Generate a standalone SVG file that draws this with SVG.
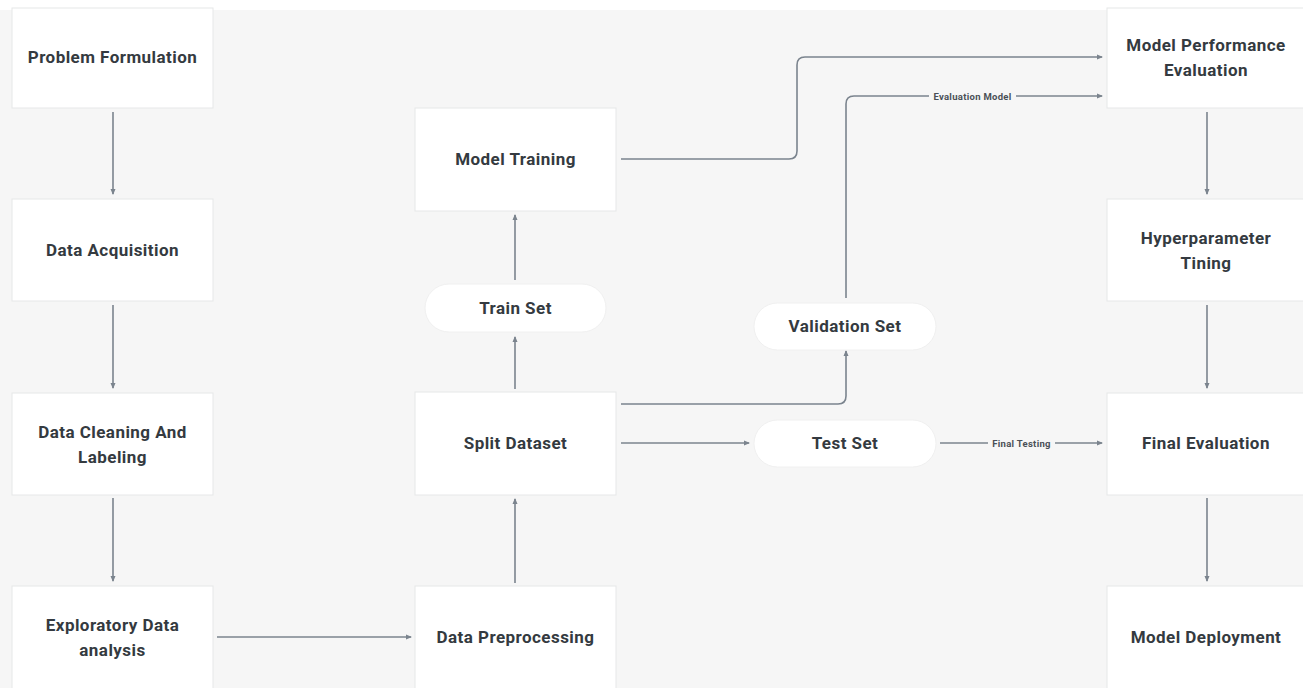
<svg xmlns="http://www.w3.org/2000/svg" width="1303" height="688" viewBox="0 0 1303 688">
<defs>
<style>
.box{fill:#ffffff;stroke:#e6e7e8;stroke-width:1}
.pill{fill:#ffffff;stroke:#f0f0f0;stroke-width:1}
.t{font-family:"Roboto","Liberation Sans",sans-serif;font-weight:bold;font-size:17px;letter-spacing:0.45px;fill:#343a40;text-anchor:middle}
.lbl{font-family:"Roboto","Liberation Sans",sans-serif;font-weight:bold;font-size:9.5px;letter-spacing:0.3px;fill:#4a5057;text-anchor:middle}
.c{fill:none;stroke:#7b848e;stroke-width:1.6;marker-end:url(#ah)}
.cn{fill:none;stroke:#7b848e;stroke-width:1.6}
</style>
<marker id="ah" viewBox="0 0 6 6" refX="5" refY="3" markerWidth="6" markerHeight="6" markerUnits="userSpaceOnUse" orient="auto">
<path d="M0,0.5 L6,3 L0,5.5 Z" fill="#7b848e"/>
</marker>
</defs>
<rect x="0" y="0" width="1303" height="688" fill="#ffffff"/>
<rect x="0" y="10" width="1303" height="678" fill="#f6f6f6"/>

<g id="connectors">
<path class="c" d="M113,112 V194"/>
<path class="c" d="M113,305 V388"/>
<path class="c" d="M113,498 V581"/>
<path class="c" d="M217,637 H411"/>
<path class="c" d="M515,583 V499"/>
<path class="c" d="M515,389 V337"/>
<path class="c" d="M515,280 V215"/>
<path class="c" d="M621,159 H789 Q797,159 797,151 V65 Q797,57 805,57 H1102"/>
<path class="c" d="M621,404 H838 Q846,404 846,396 V351"/>
<path class="cn" d="M846,298 V104 Q846,96 854,96 H929"/>
<path class="c" d="M1016,96 H1102"/>
<text class="lbl" x="972.5" y="99.5">Evaluation Model</text>
<path class="c" d="M621,443 H749"/>
<path class="cn" d="M940,443 H988"/>
<path class="c" d="M1055,443 H1102"/>
<text class="lbl" x="1021.5" y="446.5">Final Testing</text>
<path class="c" d="M1207,112 V194"/>
<path class="c" d="M1207,305 V388"/>
<path class="c" d="M1207,498 V581"/>
</g>

<g id="problem-formulation"><rect class="box" x="12" y="8" width="201" height="100"/><text class="t" x="112.5" y="63">Problem Formulation</text></g>
<g id="data-acquisition"><rect class="box" x="12" y="199" width="201" height="102"/><text class="t" x="112.5" y="256">Data Acquisition</text></g>
<g id="data-cleaning"><rect class="box" x="12" y="393" width="201" height="102"/><text class="t" x="112.5" y="438">Data Cleaning And</text><text class="t" x="112.5" y="463">Labeling</text></g>
<g id="eda"><rect class="box" x="12" y="586" width="201" height="104"/><text class="t" x="112.5" y="631">Exploratory Data</text><text class="t" x="112.5" y="656">analysis</text></g>

<g id="model-training"><rect class="box" x="415" y="108" width="201" height="103"/><text class="t" x="515.5" y="165">Model Training</text></g>
<g id="train-set"><rect class="pill" x="425" y="284" width="181" height="48" rx="24"/><text class="t" x="515.5" y="314">Train Set</text></g>
<g id="split-dataset"><rect class="box" x="415" y="392" width="201" height="103"/><text class="t" x="515.5" y="449">Split Dataset</text></g>
<g id="data-preprocessing"><rect class="box" x="415" y="586" width="201" height="104"/><text class="t" x="515.5" y="643">Data Preprocessing</text></g>

<g id="validation-set"><rect class="pill" x="754" y="303" width="182" height="47" rx="23.5"/><text class="t" x="845" y="332">Validation Set</text></g>
<g id="test-set"><rect class="pill" x="754" y="420" width="182" height="47" rx="23.5"/><text class="t" x="845" y="449">Test Set</text></g>

<g id="model-performance-evaluation"><rect class="box" x="1107" y="8" width="200" height="100"/><text class="t" x="1206" y="51">Model Performance</text><text class="t" x="1206" y="76">Evaluation</text></g>
<g id="hyperparameter-tining"><rect class="box" x="1107" y="199" width="200" height="102"/><text class="t" x="1206" y="244">Hyperparameter</text><text class="t" x="1206" y="269">Tining</text></g>
<g id="final-evaluation"><rect class="box" x="1107" y="393" width="200" height="102"/><text class="t" x="1206" y="449">Final Evaluation</text></g>
<g id="model-deployment"><rect class="box" x="1107" y="586" width="200" height="104"/><text class="t" x="1206" y="643">Model Deployment</text></g>
</svg>
